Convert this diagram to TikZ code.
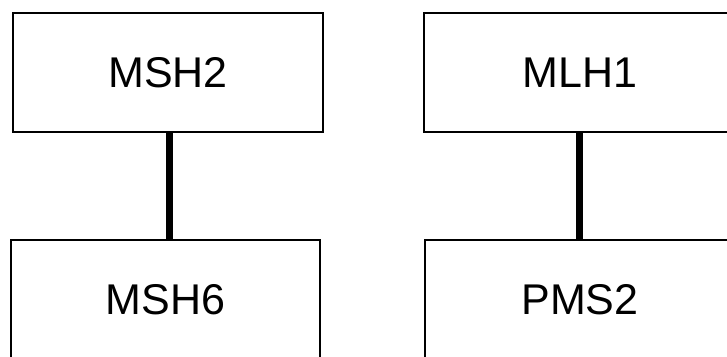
\documentclass[tikz,border=0pt]{standalone}
\usepackage{fontspec}
\setmainfont{Liberation Sans}
\begin{document}
\begin{tikzpicture}[x=1pt,y=1pt,
  genebox/.style={draw=black, line width=2pt, fill=white, inner sep=0pt,
    minimum height=119pt, font=\fontsize{43}{50}\selectfont},
  link/.style={draw=black, line width=6.5pt}]
\useasboundingbox (0,0) rectangle (727,-356);
% left pair
\node[genebox, minimum width=310pt] (msh2) at (168,-72.5) {MSH2};
\node[genebox, minimum width=309pt] (msh6) at (165.5,-299.5) {MSH6};
% right pair
\node[genebox, minimum width=312pt] (mlh1) at (580,-72.5) {MLH1};
\node[genebox, minimum width=310pt] (pms2) at (580,-299.5) {PMS2};
% heterodimer links
\draw[link] ([xshift=1.5pt]msh2.south) -- ([xshift=1.5pt]msh2.south |- msh6.north);
\draw[link] ([xshift=-0.5pt]mlh1.south) -- ([xshift=-0.5pt]mlh1.south |- pms2.north);
\end{tikzpicture}
\end{document}
